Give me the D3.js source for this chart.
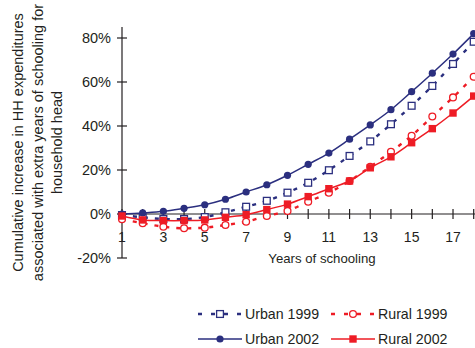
<!DOCTYPE html>
<html><head><meta charset="utf-8">
<script src="https://cdn.jsdelivr.net/npm/d3@7"></script>
<style>body{margin:0;background:#fff;} text{font-family:"Liberation Sans",Arial,sans-serif;fill:#231f20;}</style>
</head><body>
<svg id="c" width="475" height="348"></svg>
<script>
const years = [1,2,3,4,5,6,7,8,9,10,11,12,13,14,15,16,17,18];
const urban1999 = [-0.5,-1.5,-2.3,-2.3,-1.4,0.8,3.3,6.0,9.7,14.2,19.9,26.4,33.0,40.8,49.2,58.2,68.2,78.3];
const rural1999 = [-2.4,-4.2,-5.8,-6.5,-6.2,-5.0,-3.5,-0.9,1.4,5.6,9.7,15.0,21.5,28.3,35.6,44.3,53.0,62.4];
const urban2002 = [0,0.5,1.2,2.6,4.2,6.7,10.0,13.3,17.6,22.6,27.7,34.0,40.5,47.4,55.6,64.0,72.7,82.0];
const rural2002 = [-0.9,-2.7,-3.0,-3.0,-2.7,-1.5,-0.3,2.0,4.5,7.9,11.5,15.0,21.0,26.0,32.4,38.8,45.9,53.6];
const yTicks = [-20,0,20,40,60,80];
const xTickLabels = [1,3,5,7,9,11,13,15,17];
const navy = "#2b2f7f", red = "#ee1c25";

const svg = d3.select("#c");
const x = d3.scaleLinear().domain([1,18]).range([122,473.7]);
const y = d3.scaleLinear().domain([-20,80]).range([258,38]);

// y axis
svg.append("line").attr("x1",122).attr("x2",122).attr("y1",27).attr("y2",258).attr("stroke","#231f20").attr("stroke-width",1.2);
yTicks.forEach(t=>{
  svg.append("line").attr("x1",117).attr("x2",127).attr("y1",y(t)).attr("y2",y(t)).attr("stroke","#231f20").attr("stroke-width",1.2);
  svg.append("text").attr("x",111).attr("y",y(t)).attr("dy","0.35em").attr("text-anchor","end").attr("font-size",14.5).text(t+"%");
});
// x axis
svg.append("line").attr("x1",122).attr("x2",475).attr("y1",y(0)).attr("y2",y(0)).attr("stroke","#231f20").attr("stroke-width",1.2);
years.forEach(t=>{
  svg.append("line").attr("x1",x(t)).attr("x2",x(t)).attr("y1",y(0)-5).attr("y2",y(0)+5).attr("stroke","#231f20").attr("stroke-width",1.2);
});
xTickLabels.forEach(t=>{
  svg.append("text").attr("x",x(t)).attr("y",237).attr("dy","0.35em").attr("text-anchor","middle").attr("font-size",14).text(t);
});
svg.append("text").attr("x",322).attr("y",258).attr("dy","0.35em").attr("text-anchor","middle").attr("font-size",13.2).text("Years of schooling");

// y title
const yt = svg.append("text").attr("transform","translate(0,142.5) rotate(-90)").attr("text-anchor","middle").attr("font-size",14.5);
["Cumulative increase in HH expenditures","associated with extra years of schooling for","household head"].forEach((s,i)=>{
  yt.append("tspan").attr("x",0).attr("y",23+i*19.5).text(s);
});

const line = d3.line().x((d,i)=>x(years[i])).y(d=>y(d)).curve(d3.curveCatmullRom.alpha(0.5));

function marker(g, type, cx, cy, color){
  if(type==="circleFill") g.append("circle").attr("cx",cx).attr("cy",cy).attr("r",3.6).attr("fill",color);
  if(type==="circleOpen") g.append("circle").attr("cx",cx).attr("cy",cy).attr("r",3.4).attr("fill","#fff").attr("stroke",color).attr("stroke-width",1.3);
  if(type==="squareFill") g.append("rect").attr("x",cx-3.7).attr("y",cy-3.7).attr("width",7.4).attr("height",7.4).attr("fill",color);
  if(type==="squareOpen") g.append("rect").attr("x",cx-3.4).attr("y",cy-3.4).attr("width",6.8).attr("height",6.8).attr("fill","#fff").attr("stroke",color).attr("stroke-width",1.3);
}

const series = [
  {name:"Urban 1999", data:urban1999, color:navy, dash:"4,7", w:2.4, m:"squareOpen"},
  {name:"Rural 1999", data:rural1999, color:red, dash:"4,7", w:2.4, m:"circleOpen"},
  {name:"Urban 2002", data:urban2002, color:navy, dash:null, w:1.5, m:"circleFill"},
  {name:"Rural 2002", data:rural2002, color:red, dash:null, w:1.5, m:"squareFill"}
];
series.forEach(s=>{
  const g = svg.append("g");
  const p = g.append("path").attr("d",line(s.data)).attr("fill","none").attr("stroke",s.color).attr("stroke-width",s.w);
  if(s.dash) p.attr("stroke-dasharray",s.dash);
  s.data.forEach((v,i)=>marker(g,s.m,x(years[i]),y(v),s.color));
});

// legend
const leg = [
  {s:series[0], x0:197, yy:314},
  {s:series[1], x0:330, yy:314},
  {s:series[2], x0:197, yy:339},
  {s:series[3], x0:330, yy:339}
];
leg.forEach(L=>{
  const g = svg.append("g");
  const l = g.append("line").attr("x1",L.x0+1).attr("x2",L.x0+45).attr("y1",L.yy).attr("y2",L.yy).attr("stroke",L.s.color).attr("stroke-width",L.s.w);
  if(L.s.dash) l.attr("stroke-dasharray","4,9");
  marker(g,L.s.m,L.x0+23,L.yy,L.s.color);
  g.append("text").attr("x",L.x0+48).attr("y",L.yy).attr("dy","0.35em").attr("font-size",14.2).text(L.s.name);
});
</script>
</body></html>
